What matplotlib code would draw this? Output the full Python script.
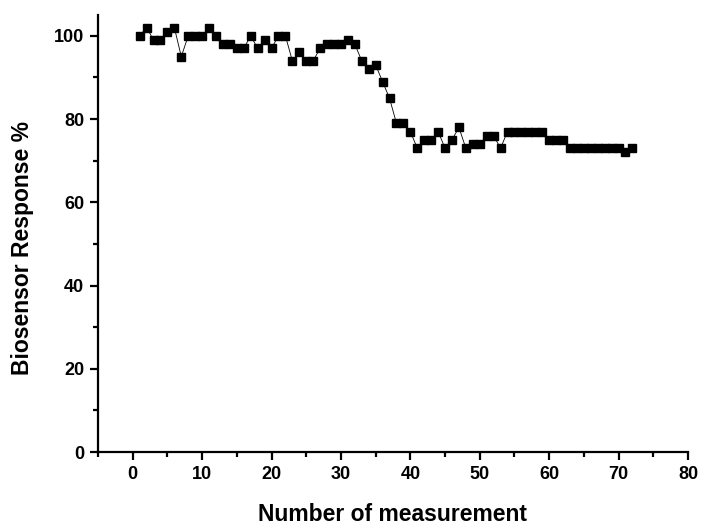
import matplotlib
matplotlib.use('Agg')
import matplotlib.pyplot as plt
from matplotlib.ticker import MultipleLocator

plt.rcParams['font.family'] = ['Liberation Sans', 'DejaVu Sans']
plt.rcParams['font.weight'] = 'bold'

# measurement number and response (%)
measurements = list(range(1, 73))
response = [
    100, 102, 99, 99, 101, 102, 95, 100, 100, 100,
    102, 100, 98, 98, 97, 97, 100, 97, 99, 97,
    100, 100, 94, 96, 94, 94, 97, 98, 98, 98,
    99, 98, 94, 92, 93, 89, 85, 79, 79, 77,
    73, 75, 75, 77, 73, 75, 78, 73, 74, 74,
    76, 76, 73, 77, 77, 77, 77, 77, 77, 75,
    75, 75, 73, 73, 73, 73, 73, 73, 73, 73,
    72, 73,
]

fig = plt.figure(figsize=(7.02, 5.27), dpi=100)
ax = fig.add_axes([0.1396, 0.1423, 0.8404, 0.8292])

ax.plot(measurements, response, color='black', linewidth=0.6,
        marker='s', markersize=5.6, markerfacecolor='black', markeredgecolor='black')

ax.set_xlim(-5, 80)
ax.set_ylim(0, 105)
ax.xaxis.set_major_locator(MultipleLocator(10))
ax.xaxis.set_minor_locator(MultipleLocator(5))
ax.yaxis.set_major_locator(MultipleLocator(20))
ax.yaxis.set_minor_locator(MultipleLocator(10))

for side in ['top', 'right']:
    ax.spines[side].set_visible(False)
for side in ['left', 'bottom']:
    ax.spines[side].set_linewidth(1.6)

ax.tick_params(which='major', direction='out', length=5.5, width=1.6, labelsize=13, pad=4.5)
ax.tick_params(which='minor', direction='out', length=3.5, width=1.6)
for lbl in ax.get_xticklabels() + ax.get_yticklabels():
    lbl.set_fontweight('bold')

ax.set_xlabel('Number of measurement', fontsize=16.5, fontweight='bold', va='center')
ax.set_ylabel('Biosensor Response %', fontsize=16.5, fontweight='bold', va='center', ha='center')
ax.xaxis.set_label_coords(0.5, -0.142)
ax.yaxis.set_label_coords(-0.128, 0.467)

fig.savefig('out.png', dpi=100)
